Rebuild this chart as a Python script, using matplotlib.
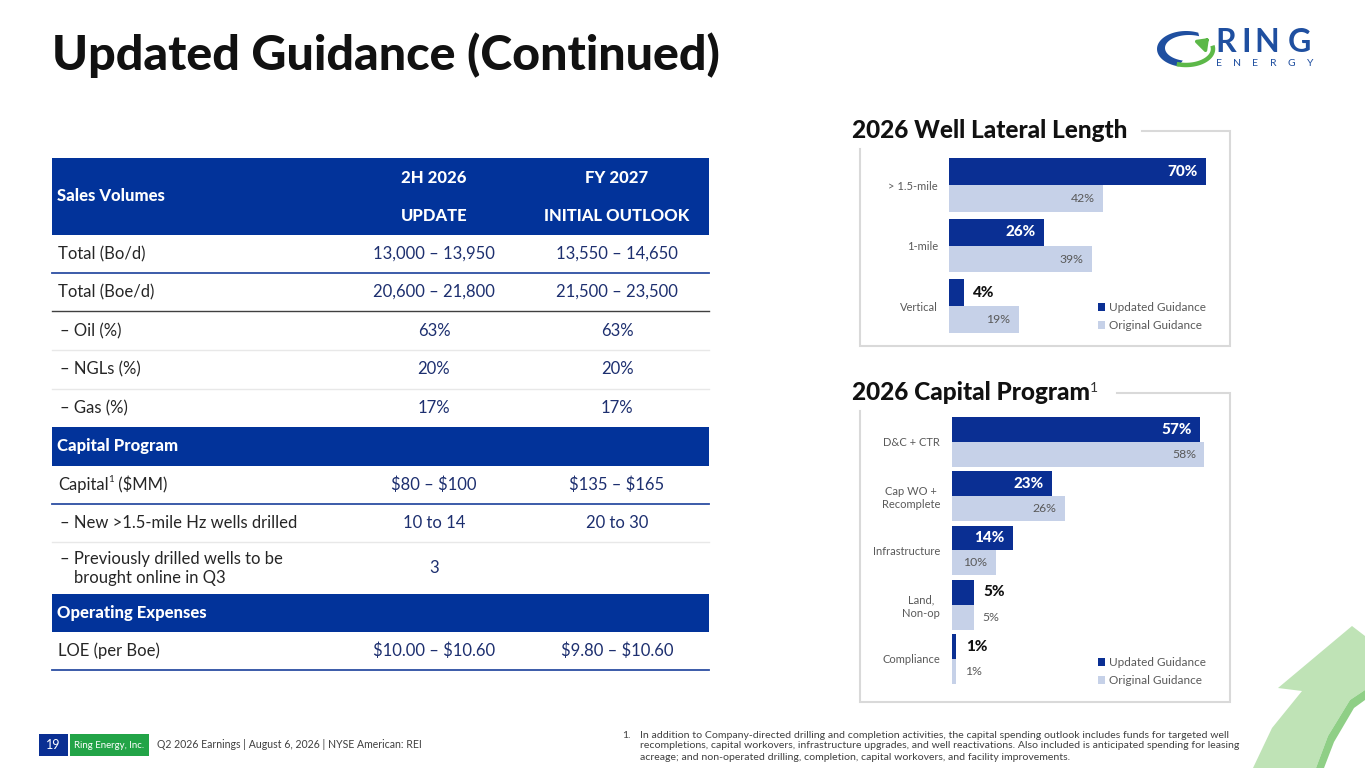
import matplotlib
matplotlib.use("Agg")
import matplotlib.pyplot as plt
from matplotlib.patches import Rectangle, Polygon
import numpy as np

plt.rcParams['font.family'] = ['Lato', 'DejaVu Sans']

# ---- data ----
lateral_cats = ["> 1.5-mile", "1-mile", "Vertical"]
lateral_updated = [70, 26, 4]
lateral_original = [42, 39, 19]

capital_cats = ["D&C + CTR", "Cap WO +\nRecomplete", "Infrastructure", "Land,\nNon-op", "Compliance"]
capital_updated = [57, 23, 14, 5, 1]
capital_original = [58, 26, 10, 5, 1]

col_heads = [("2H 2026", "UPDATE"), ("FY 2027", "INITIAL OUTLOOK")]
sales_labels = ["Total (Bo/d)", "Total (Boe/d)", "– Oil (%)", "– NGLs (%)", "– Gas (%)"]
sales_2h26 = ["13,000 – 13,950", "20,600 – 21,800", "63%", "20%", "17%"]
sales_fy27 = ["13,550 – 14,650", "21,500 – 23,500", "63%", "20%", "17%"]
capex_labels = ["Capital", "– New >1.5-mile Hz wells drilled", "– Previously drilled wells to be"]
capex_2h26 = ["$80 – $100", "10 to 14", "3"]
capex_fy27 = ["$135 – $165", "20 to 30", ""]
opex_labels = ["LOE (per Boe)"]
opex_2h26 = ["$10.00 – $10.60"]
opex_fy27 = ["$9.80 – $10.60"]

footnote = ["In addition to Company-directed drilling and completion activities, the capital spending outlook includes funds for targeted well",
            "recompletions, capital workovers, infrastructure upgrades, and well reactivations. Also included is anticipated spending for leasing",
            "acreage; and non-operated drilling, completion, capital workovers, and facility improvements."]

# ---- styles ----
DARK = "#0a2f93"
LIGHT = "#c6d1e8"
BAND = "#02339a"
NAVY = "#1d2f6f"
INK = "#262626"
GRAY = "#595959"
FRAME = "#d9d9d9"
GREEN = "#22a447"
NARROW = ["Liberation Sans Narrow", "Lato", "DejaVu Sans"]

W, H = 1365, 768
fig = plt.figure(figsize=(W / 100, H / 100), dpi=100)
bg = fig.add_axes([0, 0, 1, 1])
bg.set_xlim(0, W)
bg.set_ylim(H, 0)
bg.axis("off")
renderer = fig.canvas.get_renderer()


def txt(x, y, s, size, **kw):
    kw.setdefault("va", "center")
    return bg.text(x, y, s, fontsize=size, parse_math=False, **kw)


def fit(t, width, min_size=0):
    # scale font so the text spans the given pixel width
    w = t.get_window_extent(renderer=renderer).width
    t.set_fontsize(max(t.get_fontsize() * width / w, min_size))
    return t.get_fontsize()


def runs(x, y, parts):
    # draw text pieces one after another (for superscripts)
    for s, size, dy, kw in parts:
        t = txt(x, y + dy, s, size, ha="left", **kw)
        x += t.get_window_extent(renderer=renderer).width
    return x


# ---- title ----
t = txt(52, 55, "Updated Guidance (Continued)", 33, weight="black", color="#111111")
fit(t, 668)

# ---- logo ----
cx, cy = 1186, 49
a = np.radians(np.linspace(65, 255, 60))
outer = np.c_[cx + 29 * np.cos(a), cy - 18 * np.sin(a)]
inner = np.c_[cx + 3 + 24 * np.cos(a[::-1]), cy - 1 - 13 * np.sin(a[::-1])]
bg.add_patch(Polygon(np.r_[outer, inner], closed=True, color="#1f4fa0", lw=0))
g = np.radians(np.linspace(250, 372, 50))
bg.plot(cx + 27 * np.cos(g), cy - 16 * np.sin(g), color="#5cb848", lw=3.2, solid_capstyle="butt")
bg.annotate("", xy=(1211, 36), xytext=(1203, 44),
            arrowprops=dict(arrowstyle="-|>,head_width=0.45,head_length=0.6", color="#5cb848", lw=2.5))
for ch, xc in zip("RING", [1226, 1246, 1267, 1299]):
    txt(xc, 43, ch, 23, ha="center", color="#1f4fa0", weight="bold")
for k, ch in enumerate("ENERGY"):
    txt(1219 + k * 18.2, 64, ch, 7.5, ha="center", color="#1f4fa0")

# ---- decorative arrow bottom right ----
bg.add_patch(Polygon([(1253, 768), (1272, 728), (1302, 691), (1278, 688), (1352, 626),
                      (1365, 636), (1365, 690), (1350, 700), (1328, 736), (1316, 768)],
                     closed=True, color="#bfe3b6", lw=0))
bg.add_patch(Polygon([(1316, 768), (1328, 736), (1350, 700), (1365, 690), (1365, 700),
                      (1354, 708), (1334, 742), (1324, 768)], closed=True, color="#8fcf86", lw=0))

# ---- table ----
TL, TR = 52, 709
C1, C2 = 434, 617
LBL = 12
HDR = 12

bg.add_patch(Rectangle((TL, 158), TR - TL, 77, color=BAND, lw=0))
txt(57, 196, "Sales Volumes", HDR, weight="black", color="white")
for xc, (h1, h2) in zip([C1, C2], col_heads):
    txt(xc, 178, h1, HDR, ha="center", weight="black", color="white")
    txt(xc, 216, h2, HDR, ha="center", weight="black", color="white")

sales_y = [254, 292, 331, 369, 408]
for i, (lab, v1, v2) in enumerate(zip(sales_labels, sales_2h26, sales_fy27)):
    txt(58 if i < 2 else 60, sales_y[i], lab, LBL, color=INK)
    txt(C1, sales_y[i], v1, LBL, ha="center", color=NAVY)
    txt(C2, sales_y[i], v2, LBL, ha="center", color=NAVY)

bg.add_patch(Rectangle((TL, 427), TR - TL, 39, color=BAND, lw=0))
txt(57, 446, "Capital Program", HDR, weight="black", color="white")
capex_y = [485, 523, 559]
runs(58, capex_y[0], [(capex_labels[0], LBL, 0, dict(color=INK)),
                      ("1", 7, -5, dict(color=INK)),
                      (" ($MM)", LBL, 0, dict(color=INK))])
txt(60, capex_y[1], capex_labels[1], LBL, color=INK)
txt(60, capex_y[2], capex_labels[2], LBL, color=INK)
txt(74, 578, "brought online in Q3", LBL, color=INK)
for yv, v1, v2 in zip([485, 523, 568], capex_2h26, capex_fy27):
    txt(C1, yv, v1, LBL, ha="center", color=NAVY)
    txt(C2, yv, v2, LBL, ha="center", color=NAVY)

bg.add_patch(Rectangle((TL, 594), TR - TL, 38, color=BAND, lw=0))
txt(57, 613, "Operating Expenses", HDR, weight="black", color="white")
for lab, v1, v2 in zip(opex_labels, opex_2h26, opex_fy27):
    txt(58, 651, lab, LBL, color=INK)
    txt(C1, 651, v1, LBL, ha="center", color=NAVY)
    txt(C2, 651, v2, LBL, ha="center", color=NAVY)

for yl, col, lw in [(273, "#2c4ea3", 1.3), (311, "#404040", 1.0), (350, "#e8e8e8", 1.0),
                    (389, "#e8e8e8", 1.0), (504, "#2c4ea3", 1.3), (542, "#e8e8e8", 1.0),
                    (670, "#2c4ea3", 1.3)]:
    bg.plot([TL, TR], [yl, yl], color=col, lw=lw)

# ---- chart panels ----
def frame(top, title_end, bottom):
    bg.plot([title_end, 1230, 1230, 860, 860], [top, top, bottom, bottom, top + 18],
            color=FRAME, lw=1.5, solid_joinstyle="miter")


frame(131, 1142, 346)
t = txt(852, 131, "2026 Well Lateral Length", 16, weight="black", color="#111111")
ptitle = fit(t, 276)
frame(393, 1117, 702)
runs(852, 393, [("2026 Capital Program", ptitle, 0, dict(weight="black", color="#111111")),
                ("1", 10, -5, dict(color="#333333"))])


def hbar_panel(px, cats, upd, orig, xmax, ylim, bh, pad):
    l, t, r, b = px
    ax = fig.add_axes([l / W, 1 - b / H, (r - l) / W, (b - t) / H])
    y = np.arange(len(cats))
    b1 = ax.barh(y - bh / 2, upd, height=bh, color=DARK, label="Updated Guidance")
    b2 = ax.barh(y + bh / 2, orig, height=bh, color=LIGHT, label="Original Guidance")
    ax.set_xlim(0, xmax)
    ax.set_ylim(*ylim)
    ax.set_yticks(y, cats, fontsize=8, color=GRAY, multialignment="center")
    ax.tick_params(axis="y", length=0, pad=pad)
    ax.set_xticks([])
    for s in ax.spines.values():
        s.set_visible(False)
    ax.patch.set_alpha(0)

    for bar in b1:
        w = bar.get_width()
        yc = bar.get_y() + bar.get_height() / 2
        if w >= 10:
            ax.annotate(f"{w:.0f}%", (w, yc), xytext=(-6, 0), textcoords="offset points",
                        ha="right", va="center", color="white", weight="black", fontsize=11)
        else:
            ax.annotate(f"{w:.0f}%", (w, yc), xytext=(7, 0), textcoords="offset points",
                        ha="left", va="center", color="#111111", weight="black", fontsize=11)
    for bar in b2:
        w = bar.get_width()
        yc = bar.get_y() + bar.get_height() / 2
        if w >= 10:
            ax.annotate(f"{w:.0f}%", (w, yc), xytext=(-6, 0), textcoords="offset points",
                        ha="right", va="center", color=GRAY, fontsize=8.8)
        else:
            ax.annotate(f"{w:.0f}%", (w, yc), xytext=(6, 0), textcoords="offset points",
                        ha="left", va="center", color=GRAY, fontsize=8.8)
    return ax, b1, b2


ax1, u1, o1 = hbar_panel((949, 150, 1230, 340), lateral_cats, lateral_updated, lateral_original,
                         281 / 3.67, (2.562, -0.579), 0.446, 8)
ax1.legend(handles=[u1, o1], loc="upper left", bbox_to_anchor=((1098 - 949) / 281, (340 - 302) / 190),
           frameon=False, fontsize=8.5, labelcolor=GRAY, handlelength=0.6, handleheight=0.6,
           handletextpad=0.3, labelspacing=0.62, borderpad=0, borderaxespad=0)

ax2, u2, o2 = hbar_panel((952, 405, 1230, 695), capital_cats, capital_updated, capital_original,
                         278 / 4.35, (4.664, -0.682), 0.46, 8.5)
ax2.legend(handles=[u2, o2], loc="upper left", bbox_to_anchor=((1098 - 952) / 278, (695 - 657) / 290),
           frameon=False, fontsize=8.5, labelcolor=GRAY, handlelength=0.6, handleheight=0.6,
           handletextpad=0.3, labelspacing=0.62, borderpad=0, borderaxespad=0)

# ---- footer ----
bg.add_patch(Rectangle((39, 734), 29, 22, color=DARK, lw=0))
txt(53.5, 745, "19", 9, ha="center", color="white", family=NARROW)
bg.add_patch(Rectangle((70, 734), 79, 22, color=GREEN, lw=0))
fit(txt(109.5, 745, "Ring Energy, Inc.", 9, ha="center", color="white", family=NARROW), 70)
fit(txt(157, 745, "Q2 2026 Earnings | August 6, 2026 | NYSE American: REI", 9, color="#404040",
        family=NARROW), 216, min_size=7.6)

txt(622, 735, "1.", 7.5, color="#404040", family=NARROW)
fn = [txt(640, 735 + k * 11, line, 7.5, color="#404040", family=NARROW) for k, line in enumerate(footnote)]
size = fit(fn[1], 593)
for f in fn:
    f.set_fontsize(size)

fig.savefig("out.png", dpi=100)
